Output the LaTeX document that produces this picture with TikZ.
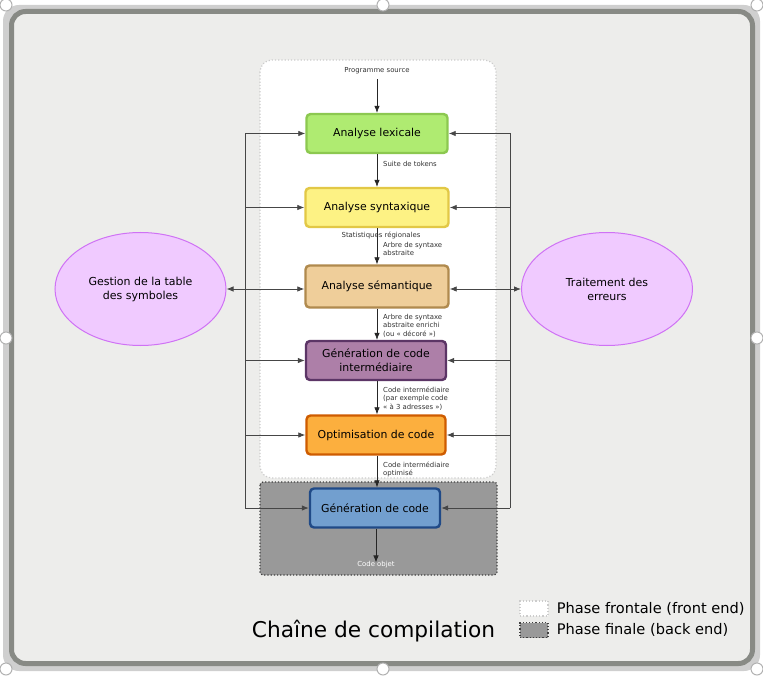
\documentclass[tikz,border=0pt]{standalone}
\usepackage{fontspec}
\setmainfont{DejaVu Sans}
\usetikzlibrary{arrows.meta,shapes.geometric,positioning}

\definecolor{fond}{HTML}{EDEDEB}
\definecolor{cadre}{HTML}{888A85}
\definecolor{bande}{HTML}{CFCFCF}
\definecolor{lexfill}{HTML}{AFEB71}
\definecolor{lexdraw}{HTML}{8CC850}
\definecolor{synfill}{HTML}{FDF284}
\definecolor{syndraw}{HTML}{E2C846}
\definecolor{semfill}{HTML}{EFCE9A}
\definecolor{semdraw}{HTML}{B08A4E}
\definecolor{intfill}{HTML}{AD7FA8}
\definecolor{intdraw}{HTML}{5C3566}
\definecolor{optfill}{HTML}{FCAF3E}
\definecolor{optdraw}{HTML}{CE5C00}
\definecolor{genfill}{HTML}{729FCF}
\definecolor{gendraw}{HTML}{204A87}
\definecolor{ellfill}{HTML}{F0CAFF}
\definecolor{elldraw}{HTML}{CF72F5}

\tikzset{
  phase/.style={draw, rounded corners=4pt, line width=2.4pt, align=center,
    minimum height=39pt, inner sep=2pt, font=\fontsize{10.9}{14}\selectfont},
  tache/.style={ellipse, draw=elldraw, fill=ellfill, line width=1pt,
    minimum width=171pt, minimum height=113pt, inner sep=0pt, align=center,
    font=\fontsize{11}{14}\selectfont},
  flux/.style={-{Latex[length=7pt,width=5.5pt]}, black!85, line width=0.7pt},
  flux2/.style={{Latex[length=7pt,width=5.5pt]}-{Latex[length=7pt,width=5.5pt]}, gray!55!black, line width=0.8pt},
  lien/.style={-{Latex[length=7pt,width=5.5pt]}, gray!55!black, line width=0.8pt},
  bus/.style={gray!55!black, line width=0.8pt},
  lbl/.style={font=\fontsize{6.9}{8.5}\selectfont, align=left, anchor=west,
    inner sep=0pt, text=black!80},
  poignee/.style={circle, draw=gray!60, fill=white, line width=1pt,
    minimum size=12pt, inner sep=0pt},
  legende/.style={font=\fontsize{14.6}{17}\selectfont, inner sep=0pt}
}

\begin{document}
\begin{tikzpicture}[x=1pt,y=-1pt]
\useasboundingbox (0,0) rectangle (763,676);
\fill[bande, rounded corners=16pt] (3,5) rectangle (760,671);
\draw[cadre, fill=fond, line width=5pt, rounded corners=14pt] (11.5,11.5) rectangle (752.5,663.5);
\foreach \px/\py in {6/5,383/5,757/5,6/338,757/338,6/669,383/669,757/669}
  \node[poignee] at (\px,\py) {};

\draw[gray!40, dotted, line width=1.2pt, fill=white, rounded corners=12pt] (260,60) rectangle (496,478);
\draw[black!75, dotted, line width=1.2pt, fill=black!40, rounded corners=3pt] (260,482) rectangle (497,575);

\node[font=\fontsize{6.9}{8.5}\selectfont, text=black!80, inner sep=1pt] (src) at (377,71) {Programme source};
\node[phase, fill=lexfill, draw=lexdraw, minimum width=141pt] (lex) at (377,133.5) {Analyse lexicale};
\node[phase, fill=synfill, draw=syndraw, minimum width=143pt] (syn) at (377,207.5) {Analyse syntaxique};
\node[phase, fill=semfill, draw=semdraw, minimum width=143pt, minimum height=42pt] (sem) at (377,286.5) {Analyse sémantique};
\node[phase, fill=intfill, draw=intdraw, minimum width=140pt] (inter) at (376,360.5) {Génération de code\\intermédiaire};
\node[phase, fill=optfill, draw=optdraw, minimum width=139pt] (optim) at (376,435) {Optimisation de code};
\node[phase, fill=genfill, draw=gendraw, minimum width=130pt] (gen) at (375,508) {Génération de code};
\node[font=\fontsize{6.9}{8.5}\selectfont, text=white, inner sep=1pt] (obj) at (376,565) {Code objet};

\node[tache] (sym) at (140.5,289) {Gestion de la table\\des symboles};
\node[tache] (err) at (607,289) {Traitement des\\erreurs};

\node[lbl] (tok) at (383,164) {Suite de tokens};
\node[lbl, anchor=center] (stat) at (381,235.5) {Statistiques régionales};
\node[lbl] (ast) at (383,249) {Arbre de syntaxe\\abstraite};
\node[lbl] (deco) at (383,325.5) {Arbre de syntaxe\\abstraite enrichi\\(ou « décoré »)};
\node[lbl] (ci) at (383,398.5) {Code intermédiaire\\(par exemple code\\« à 3 adresses »)};
\node[lbl] (cio) at (383,469.5) {Code intermédiaire\\optimisé};

\draw[flux] ([yshift=-4pt]src.south) -- (lex);
\draw[flux] (lex) -- (syn);
\draw[flux] (syn) -- (sem);
\draw[flux] (sem.south) -- (sem.south |- inter.north);
\draw[flux] (sem.south |- inter.south) -- (sem.south |- optim.north);
\draw[flux] (sem.south |- optim.south) -- (sem.south |- gen.north);
\draw[flux] (gen.south -| obj) -- ([yshift=-2pt]obj.north);

\coordinate (lb) at (245,0);
\coordinate (rb) at (510,0);
\draw[bus] (lex.west -| lb) -- (gen.west -| lb);
\draw[bus] (lex.east -| rb) -- (gen.east -| rb);
\foreach \n in {lex,syn,inter,optim,gen} {
  \draw[lien] (\n.west -| lb) -- (\n.west);
  \draw[lien] (\n.east -| rb) -- (\n.east);
}
\draw[flux2] (sym.east) -- (sym.east -| sem.west);
\draw[flux2] (sem.east |- err.west) -- (err.west);

\node[draw=gray!40, dotted, line width=1.2pt, fill=white, minimum width=28pt, minimum height=15pt, inner sep=0pt] (lfront) at (534,608.5) {};
\node[legende, right=8pt of lfront] (tfront) {Phase frontale (front end)};
\node[draw=black!75, dotted, line width=1.2pt, fill=black!40, minimum width=28pt, minimum height=15pt, inner sep=0pt] (lback) at (534,630) {};
\node[legende, right=8pt of lback] (tback) {Phase finale (back end)};
\node[font=\fontsize{21.7}{26}\selectfont, inner sep=0pt] (titre) at (373.5,631) {Chaîne de compilation};
\end{tikzpicture}
\end{document}
